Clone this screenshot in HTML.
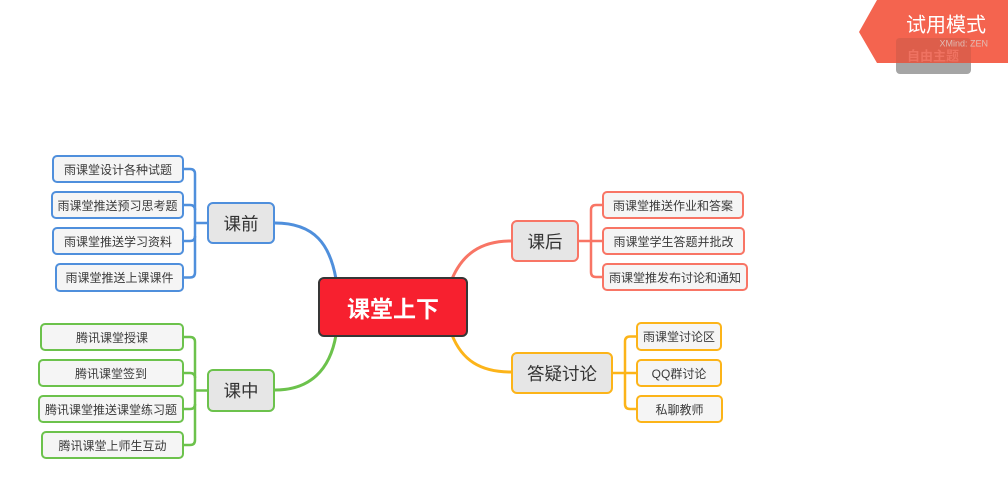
<!DOCTYPE html>
<html><head><meta charset="utf-8">
<style>
html,body{margin:0;padding:0;background:#fff;}
body{width:1008px;height:497px;position:relative;overflow:hidden;font-family:"Liberation Sans","Noto Sans CJK SC",sans-serif;}
.n{position:absolute;box-sizing:border-box;display:flex;align-items:center;justify-content:center;white-space:nowrap;color:#333;}
.s{border:2px solid;border-radius:5px;background:#f5f5f5;font-size:12px;color:#3a3a3a;}
.m{border:2px solid;border-radius:6px;background:#e6e6e6;font-size:17.5px;}
.b{border-color:#4f8fdc;}
.g{border-color:#6cc24c;}
.r{border-color:#f87565;}
.o{border-color:#fcb419;}
svg{position:absolute;left:0;top:0;}
</style></head><body>
<svg width="1008" height="497" viewBox="0 0 1008 497">
<g fill="none" stroke-width="3" stroke-linecap="round">
<path d="M275,223 C315,223 330,245 336,279" stroke="#4f8fdc"/>
<path d="M336,335 C330,370 310,390 275,390" stroke="#6cc24c"/>
<path d="M511,241 C480,241 462,255 452,279" stroke="#f87565"/>
<path d="M452,335 C462,360 480,372 511,372" stroke="#fcb419"/>
</g>
<g fill="none" stroke-width="2.5">
<g stroke="#4f8fdc">
<path d="M184,169 H190 Q195,169 195,174 V272.5 Q195,277.5 190,277.5 H184"/>
<path d="M184,205 H190 Q195,205 195,210"/>
<path d="M184,241 H190 Q195,241 195,236"/>
<path d="M195,223 H208"/>
</g>
<g stroke="#6cc24c">
<path d="M184,337 H190 Q195,337 195,342 V440 Q195,445 190,445 H184"/>
<path d="M184,373 H190 Q195,373 195,378"/>
<path d="M184,409 H190 Q195,409 195,404"/>
<path d="M195,390.5 H208"/>
</g>
<g stroke="#f87565">
<path d="M602,205 H596 Q591,205 591,210 V272 Q591,277 596,277 H602"/>
<path d="M579,241 H602"/>
</g>
<g stroke="#fcb419">
<path d="M636,336.5 H630 Q625,336.5 625,341.5 V404 Q625,409 630,409 H636"/>
<path d="M613,373 H636"/>
</g>
</g>
<!-- watermark -->
<rect x="896" y="38" width="75" height="36" rx="4" fill="#a5a5a5"/>
<polygon points="877,0 1008,0 1008,63 877,63 859,32" fill="#f4644f"/>
<path d="M896,63 V42 Q896,38 900,38 H967 Q971,38 971,42 V63 Z" fill="#dd5e4b"/>
<text x="933" y="57" font-size="13" font-weight="bold" fill="#ef7261" text-anchor="middle" dominant-baseline="middle" font-family="Liberation Sans, Noto Sans CJK SC, sans-serif">自由主题</text>
<text x="946" y="26" font-size="20" fill="#fff" text-anchor="middle" dominant-baseline="middle" font-family="Liberation Sans, Noto Sans CJK SC, sans-serif">试用模式</text>
<text x="988" y="44" font-size="9" fill="#e0bdb5" text-anchor="end" dominant-baseline="middle" font-family="Liberation Sans, sans-serif">XMind: ZEN</text>
</svg>

<div class="n" style="left:318px;top:277px;width:150px;height:60px;background:#f7202f;border:2px solid #363636;border-radius:6px;color:#fff;font-size:23px;font-weight:bold;">课堂上下</div>

<div class="n m b" style="left:207px;top:202px;width:68px;height:42px;">课前</div>
<div class="n m g" style="left:207px;top:369px;width:68px;height:43px;">课中</div>
<div class="n m r" style="left:511px;top:220px;width:68px;height:42px;">课后</div>
<div class="n m o" style="left:511px;top:352px;width:102px;height:42px;">答疑讨论</div>

<div class="n s b" style="left:52px;top:155px;width:132px;height:28px;">雨课堂设计各种试题</div>
<div class="n s b" style="left:51px;top:191px;width:133px;height:28px;">雨课堂推送预习思考题</div>
<div class="n s b" style="left:52px;top:227px;width:132px;height:28px;">雨课堂推送学习资料</div>
<div class="n s b" style="left:55px;top:263px;width:129px;height:29px;">雨课堂推送上课课件</div>

<div class="n s g" style="left:40px;top:323px;width:144px;height:28px;">腾讯课堂授课</div>
<div class="n s g" style="left:38px;top:359px;width:146px;height:28px;">腾讯课堂签到</div>
<div class="n s g" style="left:38px;top:395px;width:146px;height:28px;">腾讯课堂推送课堂练习题</div>
<div class="n s g" style="left:41px;top:431px;width:143px;height:28px;">腾讯课堂上师生互动</div>

<div class="n s r" style="left:602px;top:191px;width:142px;height:28px;">雨课堂推送作业和答案</div>
<div class="n s r" style="left:602px;top:227px;width:143px;height:28px;">雨课堂学生答题并批改</div>
<div class="n s r" style="left:602px;top:263px;width:146px;height:28px;">雨课堂推发布讨论和通知</div>

<div class="n s o" style="left:636px;top:322px;width:86px;height:29px;">雨课堂讨论区</div>
<div class="n s o" style="left:636px;top:359px;width:86px;height:28px;">QQ群讨论</div>
<div class="n s o" style="left:636px;top:395px;width:87px;height:28px;">私聊教师</div>
</body></html>
